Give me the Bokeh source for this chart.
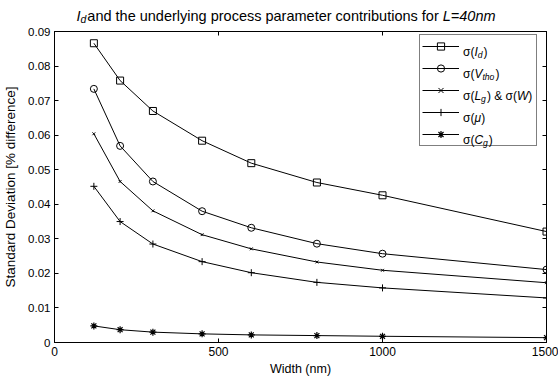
from bokeh.plotting import figure
from bokeh.models import Range1d, FixedTicker, LinearAxis, Legend, LegendItem, Label
from bokeh.layouts import column
from bokeh.embed import file_html
from bokeh.resources import INLINE

# ---------------- data ----------------
width_nm = [120, 200, 300, 450, 600, 800, 1000, 1500]
sigma_Id = [0.0866, 0.0758, 0.0670, 0.0584, 0.0519, 0.0463, 0.0426, 0.0321]
sigma_Vtho = [0.0734, 0.0569, 0.0466, 0.0380, 0.0332, 0.0286, 0.0257, 0.0211]
sigma_Lg = [0.0604, 0.0466, 0.0381, 0.0312, 0.0271, 0.0233, 0.0209, 0.0173]
sigma_mu = [0.0452, 0.0350, 0.0285, 0.0234, 0.0202, 0.0174, 0.0158, 0.0129]
sigma_Cg = [0.0048, 0.0037, 0.0030, 0.0025, 0.0022, 0.0020, 0.0018, 0.0014]

x_ticks = [0, 500, 1000, 1500]
x_tick_labels = ["0", "500", "1000", "1500"]
y_ticks = [0, 0.01, 0.02, 0.03, 0.04, 0.05, 0.06, 0.07, 0.08, 0.09]
y_tick_labels = ["0", "0.01", "0.02", "0.03", "0.04", "0.05", "0.06", "0.07", "0.08", "0.09"]

FONT = "Liberation Sans"

TITLE_H = 24
# frame geometry (screen px, whole page)
FL, FR, FT, FB = 54, 546, 31, 342
PH = 381 - TITLE_H          # main figure height

# ---------- title strip (its own small figure, text only) ----------
t = figure(width=558, height=TITLE_H, output_backend="svg", toolbar_location=None,
           title=None, x_range=Range1d(0, 1), y_range=Range1d(0, 1),
           min_border_left=FL, min_border_right=558 - FR,
           min_border_top=0, min_border_bottom=0,
           x_axis_type=None, y_axis_type=None)
t.grid.visible = False
t.outline_line_color = None
t.background_fill_color = None
t.border_fill_color = None

# ---------- main figure ----------
p = figure(width=558, height=PH, output_backend="svg", toolbar_location=None,
           x_range=Range1d(0, 1500), y_range=Range1d(0, 0.09),
           min_border_left=FL, min_border_right=558 - FR,
           min_border_top=FT - TITLE_H, min_border_bottom=381 - FB,
           x_axis_label="Width (nm)", y_axis_label="Standard Deviation [% difference]")
p.grid.visible = False
p.outline_line_color = "black"
p.outline_line_width = 1
p.background_fill_color = "white"
p.border_fill_color = None


def style_axis(ax, ticks, labels, show_labels=True, fs="12px"):
    ax.ticker = FixedTicker(ticks=ticks, minor_ticks=[])
    if show_labels:
        ax.major_label_overrides = {t_: l for t_, l in zip(ticks, labels)}
    else:
        ax.major_label_overrides = {t_: "" for t_ in ticks}
    ax.major_tick_in = 4
    ax.major_tick_out = 0
    ax.minor_tick_in = 0
    ax.minor_tick_out = 0
    ax.axis_line_color = "black"
    ax.major_tick_line_color = "black"
    ax.major_label_text_font = FONT
    ax.major_label_text_font_size = fs
    ax.major_label_text_color = "black"
    ax.major_label_standoff = 4
    ax.axis_label_text_font = FONT
    ax.axis_label_text_font_size = "12.5px"
    ax.axis_label_text_font_style = "normal"
    ax.axis_label_text_color = "black"


style_axis(p.xaxis[0], x_ticks, x_tick_labels, fs="12px")
style_axis(p.yaxis[0], y_ticks, y_tick_labels, fs="11.5px")
p.xaxis[0].axis_label_standoff = 3
p.yaxis[0].axis_label_standoff = 7
p.yaxis[0].axis_label_text_font_size = "13.5px"

top_ax = LinearAxis()
style_axis(top_ax, x_ticks, x_tick_labels, show_labels=False)
p.add_layout(top_ax, "above")
right_ax = LinearAxis()
style_axis(right_ax, y_ticks, y_tick_labels, show_labels=False)
p.add_layout(right_ax, "right")

series = [
    (sigma_Id, "square", 7, 1.0),
    (sigma_Vtho, "circle", 7, 1.0),
    (sigma_Lg, "x", 4, 1.0),
    (sigma_mu, "cross", 7, 1.0),
    (sigma_Cg, "asterisk", 7, 1.2),
]
items = []
for vals, marker, size, lw in series:
    lr = p.line(width_nm, vals, line_color="black", line_width=1)
    sr = p.scatter(width_nm, vals, marker=marker, size=size, line_color="black",
                   fill_color=None, line_width=lw)
    items.append(LegendItem(label=" ", renderers=[lr, sr]))

# legend box: left 419, bottom 146 (page px)
legend = Legend(items=items, location=(419 - FL, FB - 146), padding=2, spacing=4,
                glyph_width=37, glyph_height=18, label_height=18, label_width=70,
                label_standoff=5, margin=0, border_line_color="black",
                border_line_width=1, background_fill_color="white",
                background_fill_alpha=0.0, label_text_font_size="7px")
p.add_layout(legend, "center")

# --------- rich text helpers (subscripts / italics) ---------
CW = {'a': .556, 'b': .556, 'c': .5, 'd': .556, 'e': .556, 'f': .278, 'g': .556,
      'h': .556, 'i': .222, 'j': .222, 'k': .5, 'l': .222, 'm': .833, 'n': .556,
      'o': .556, 'p': .556, 'q': .556, 'r': .333, 's': .5, 't': .278, 'u': .556,
      'v': .5, 'w': .722, 'x': .5, 'y': .5, 'z': .5, ' ': .278, '=': .584,
      '0': .556, '1': .556, '2': .556, '3': .556, '4': .556, '5': .556,
      '6': .556, '7': .556, '8': .556, '9': .556, '(': .333, ')': .333,
      '&': .667, 'I': .278, 'V': .667, 'L': .556, 'W': .944, 'C': .722,
      'σ': .617, 'μ': .576}


def piece_width(txt, fs):
    return sum(CW.get(c, .556) for c in txt) * fs


def add_rich(fig, x0, y0, pieces, x, y_base, size, sub_shift):
    """x, y_base in page pixels (y from top); (x0, y0) = fig frame's bottom-left on page."""
    for txt, italic, sub in pieces:
        fs = size * (0.72 if sub else 1.0)
        yy = y_base + (sub_shift if sub else 0)
        lab = Label(x=x - x0, y=y0 - yy, x_units="screen", y_units="screen",
                    text=txt, text_font=FONT, text_font_size=f"{fs:.2f}px",
                    text_font_style="italic" if italic else "normal",
                    text_color="black", text_baseline="alphabetic",
                    text_align="left")
        fig.add_layout(lab, "center")
        x += piece_width(txt, fs) + (1.0 if sub else 0.0)


legend_texts = [
    [("σ(", False, False), ("I", True, False), ("d", True, True), (")", False, False)],
    [("σ(", False, False), ("V", True, False), ("tho", True, True), (")", False, False)],
    [("σ(", False, False), ("L", True, False), ("g", True, True), (") & σ(", False, False),
     ("W", True, False), (")", False, False)],
    [("σ(", False, False), ("μ", True, False), (")", False, False)],
    [("σ(", False, False), ("C", True, False), ("g", True, True), (")", False, False)],
]
for i, pcs in enumerate(legend_texts):
    cy = 47 + 22 * i
    add_rich(p, FL, FB, pcs, 462.5, cy + 4.2, 12, 3.4)

title_pieces = [("I", True, False), ("d", True, True),
                (" and the underlying process parameter contributions for", False, False),
                (" L=40nm", True, False)]
# title strip frame spans x 54..546 (aligned with the main frame), y 0..TITLE_H
add_rich(t, FL, TITLE_H, title_pieces, 76, 15.8, 14.5, 2.8)

layout = column(t, p, spacing=0)
open("out.html", "w").write(file_html(layout, INLINE))
